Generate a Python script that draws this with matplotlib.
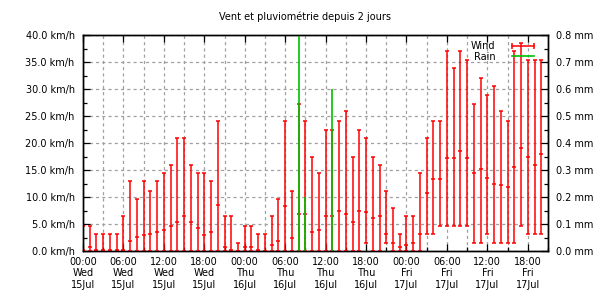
import datetime as dt
import matplotlib
matplotlib.use("Agg")
import matplotlib.pyplot as plt
import matplotlib.dates as mdates
from matplotlib.lines import Line2D
from matplotlib.ticker import MultipleLocator, FuncFormatter

# hourly samples from Wed 15 Jul 00:00
start = dt.datetime(2020, 7, 15, 0, 0)

wind_high = [4.6, 4.6, 3.1, 3.1, 3.1, 3.1, 6.4, 13.0, 9.6, 13.0, 11.1, 13.0,
             14.4, 16.0, 20.9, 20.9, 16.0, 14.4, 14.4, 13.0, 24.0, 6.4, 6.4, 1.4,
             4.6, 4.6, 3.1, 3.1, 6.4, 9.6, 24.0, 11.1, 27.3, 24.0, 17.5, 14.4,
             22.5, 22.5, 24.0, 25.9, 17.5, 22.5, 20.9, 17.5, 16.0, 11.1, 7.9, 3.1,
             6.4, 6.4, 14.4, 20.9, 24.0, 24.0, 37.0, 33.9, 37.0, 35.4, 27.3, 32.0,
             28.9, 30.6, 25.9, 24.0, 37.0, 38.5, 35.4, 35.4, 35.4]
wind_mean = [0.25, 0.7, 0.25, 0.25, 0.25, 0.25, 0.25, 1.8, 2.6, 2.9, 3.1, 3.5,
             3.8, 4.6, 5.3, 6.4, 5.3, 4.2, 2.9, 3.5, 8.6, 0.7, 0.25, 0.0,
             0.7, 0.7, 0.25, 0.0, 1.05, 1.8, 8.3, 2.5, 6.8, 6.8, 3.5, 3.8,
             6.4, 6.4, 7.5, 6.8, 5.3, 7.5, 7.2, 6.05, 6.4, 3.1, 1.4, 0.7,
             1.05, 1.4, 3.1, 10.7, 13.3, 13.3, 17.2, 17.2, 18.6, 17.2, 14.4, 15.1,
             13.6, 12.5, 12.2, 11.8, 15.5, 19.0, 17.5, 16.0, 17.9]
wind_low = [0.0] * 42 + [1.4, 0.0, 0.0, 1.4, 0.0, 0.0,
             0.0, 0.0, 0.0, 3.1, 3.1, 4.6, 4.6, 4.6, 4.6, 4.6, 1.4, 1.4,
             3.1, 1.4, 1.4, 1.4, 1.4, 4.6, 3.1, 3.1, 3.1]
rain_hours = [32, 33, 37]
rain_mm = [0.8, 0.2, 0.6]

times = [start + dt.timedelta(hours=h) for h in range(len(wind_high))]
rain_times = [start + dt.timedelta(hours=h) for h in rain_hours]

RED = '#ff0000'
GREEN = '#00c000'
GRID = '#a0a0a0'

plt.rcParams['font.family'] = 'DejaVu Sans'
fig = plt.figure(figsize=(6.1, 3.0), dpi=100)
ax = fig.add_axes([83/610, 1 - 251/300, 465/610, 216/300])
ax2 = ax.twinx()

err_lo = [m - l for m, l in zip(wind_mean, wind_low)]
err_hi = [h - m for h, m in zip(wind_high, wind_mean)]
ax.errorbar(times, wind_mean, yerr=[err_lo, err_hi], fmt='_', color=RED,
            ecolor=RED, elinewidth=1.1, capsize=1.6, capthick=1.1,
            markersize=3.5, markeredgewidth=1.1, zorder=3)
ax2.vlines(rain_times, 0, rain_mm, color=GREEN, lw=1.2)

ax.set_xlim(start, start + dt.timedelta(hours=69))
ax.set_ylim(0, 40)
ax2.set_ylim(0, 0.8)

ax.xaxis.set_major_locator(mdates.HourLocator(byhour=[0, 6, 12, 18]))
ax.xaxis.set_minor_locator(mdates.HourLocator(byhour=[3, 9, 15, 21]))
ax.xaxis.set_major_formatter(mdates.DateFormatter('%H:%M\n%a\n%d%b'))
ax.yaxis.set_major_locator(MultipleLocator(5))
ax.yaxis.set_minor_locator(MultipleLocator(2.5))
ax.yaxis.set_major_formatter(FuncFormatter(lambda v, p: f'{v:.1f} km/h'))
ax2.yaxis.set_major_locator(MultipleLocator(0.1))
ax2.yaxis.set_minor_locator(MultipleLocator(0.05))
ax2.yaxis.set_major_formatter(FuncFormatter(lambda v, p: f'{v:.1f} mm'))

ax.tick_params(which='both', direction='in', top=True, labelsize=7, width=0.9)
ax.tick_params(axis='y', which='both', right=False, pad=6)
ax.tick_params(axis='x', pad=4)
ax.tick_params(which='major', length=5)
ax.tick_params(which='minor', length=3)
ax.tick_params(axis='x', which='minor', top=False, length=3)
ax2.tick_params(which='both', direction='in', labelsize=7, pad=6, width=0.9)
ax2.tick_params(which='major', length=5)
ax2.tick_params(which='minor', length=3)

ax.grid(which='both', axis='x', color=GRID, ls=(0, (2.5, 2.5)), lw=0.9)
ax.grid(which='major', axis='y', color=GRID, ls=(0, (2.5, 2.5)), lw=0.9)
ax.set_axisbelow(True)
for a in (ax, ax2):
    for sp in a.spines.values():
        sp.set_linewidth(1.0)

fig.text(0.5, 1 - 17/300, 'Vent et pluviométrie depuis 2 jours',
         ha='center', va='center', fontsize=7)

handles = [Line2D([], [], color=RED, lw=1.1, marker='|', markersize=4, markeredgewidth=1.1),
           Line2D([], [], color=GREEN, lw=1.2)]
leg = ax2.legend(handles, ['Wind', 'Rain'], loc='upper right',
                 bbox_to_anchor=(0.985, 0.99), frameon=False, fontsize=7,
                 markerfirst=False, handlelength=2.9, handletextpad=1.4,
                 labelspacing=0.05, numpoints=2, borderaxespad=0)

fig.savefig('out.png', dpi=100)
